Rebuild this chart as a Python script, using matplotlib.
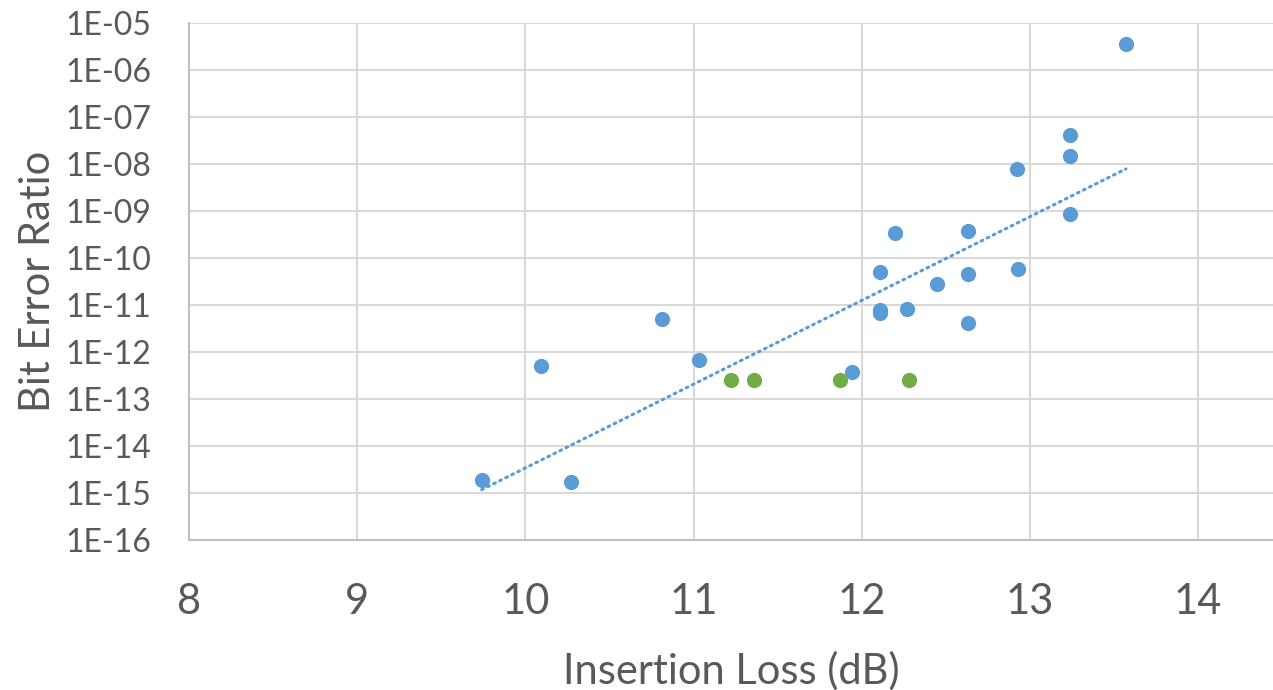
import numpy as np
import matplotlib
matplotlib.use("Agg")
import matplotlib.pyplot as plt
from matplotlib.ticker import FuncFormatter, FixedLocator

plt.rcParams['font.family'] = ['Lato', 'DejaVu Sans']

# blue series: insertion loss (dB) vs BER
loss_blue = [13.57, 13.24, 13.24, 13.24, 12.92, 12.93, 12.63, 12.63, 12.63,
             12.45, 12.20, 12.11, 12.11, 12.11, 12.27, 11.94, 11.03, 10.81,
             10.09, 9.74, 10.27]
ber_blue = [3.6e-6, 4.2e-8, 1.5e-8, 8.7e-10, 8.1e-9, 5.9e-11, 3.7e-10, 4.6e-11,
            4.2e-12, 2.8e-11, 3.4e-10, 5.0e-11, 7.8e-12, 6.8e-12, 8.1e-12,
            3.7e-13, 6.8e-13, 5.0e-12, 5.0e-13, 1.9e-15, 1.7e-15]

# green series
loss_green = [11.22, 11.36, 11.87, 12.28]
ber_green = [2.6e-13, 2.6e-13, 2.6e-13, 2.55e-13]

blue = '#5B9BD5'
green = '#70AD47'
grid = '#D9D9D9'
txt = '#595959'

fig = plt.figure(figsize=(12.73, 6.90), dpi=100)
ax = fig.add_axes([189 / 1273, 1 - 540 / 690, (1273 - 189) / 1273, (540 - 23.3) / 690])

ax.set_yscale('log')
ax.set_xlim(8, 8 + (1273 - 189) / 168.2)
ax.set_ylim(1e-16, 1e-5)

# exponential trendline (fit on all points, drawn over the blue range)
all_x = loss_blue + loss_green
all_y = np.log10(ber_blue + ber_green)
coef = np.polyfit(all_x, all_y, 1)
xt = np.linspace(min(loss_blue), max(loss_blue), 100)
ax.plot(xt, 10 ** np.polyval(coef, xt), color=blue, lw=2.2, ls=(0, (0.6, 1.6)),
        dash_capstyle='round', zorder=2)

ax.scatter(loss_blue, ber_blue, s=120, color=blue, zorder=3, linewidths=0)
ax.scatter(loss_green, ber_green, s=120, color=green, zorder=3, linewidths=0)

ax.xaxis.set_major_locator(FixedLocator([8, 9, 10, 11, 12, 13, 14]))
ax.yaxis.set_major_locator(FixedLocator([10.0 ** e for e in range(-16, -4)]))
ax.yaxis.set_minor_locator(FixedLocator([]))
ax.yaxis.set_major_formatter(FuncFormatter(lambda v, p: "1E-%02d" % round(-np.log10(v))))

ax.grid(True, color=grid, lw=1.5)
ax.set_axisbelow(True)
for s in ['top', 'right']:
    ax.spines[s].set_visible(False)
for s in ['left', 'bottom']:
    ax.spines[s].set_color('#BFBFBF')
    ax.spines[s].set_linewidth(1.5)

ax.tick_params(axis='both', length=0, colors=txt)
ax.tick_params(axis='y', labelsize=23, pad=27)
ax.tick_params(axis='x', labelsize=30, pad=31)

ax.set_xlabel('Insertion Loss (dB)', fontsize=30, color=txt, labelpad=22)
ax.set_ylabel('Bit Error Ratio', fontsize=30, color=txt, labelpad=6)

fig.savefig('out.png', dpi=100)
